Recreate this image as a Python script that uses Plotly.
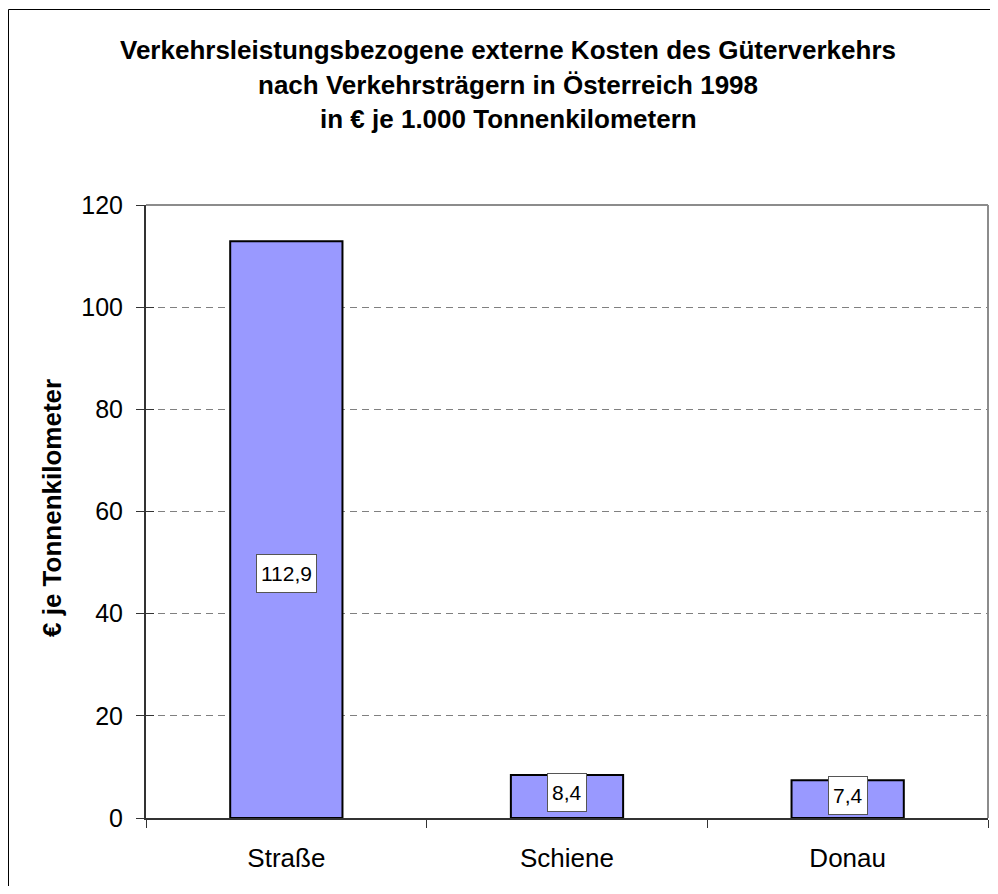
import plotly.graph_objects as go

categories = ["Straße", "Schiene", "Donau"]
values = [112.9, 8.4, 7.4]
value_labels = ["112,9", "8,4", "7,4"]
label_pos = [47.9, 5.0, 4.4]
y_ticks = [0, 20, 40, 60, 80, 100, 120]
title_lines = [
    "Verkehrsleistungsbezogene externe Kosten des Güterverkehrs",
    "nach Verkehrsträgern in Österreich 1998",
    "in € je 1.000 Tonnenkilometern",
]
y_title = "€ je Tonnenkilometer"

FONT = "Arial, Liberation Sans, sans-serif"
OFF = 8  # default page margin of the html body
W, H = 998 - 2 * OFF, 894 - 2 * OFF
L, T = 146 - OFF, 205 - OFF
R = W - (988 - OFF)
B = H - (818 - OFF)
PW, PH = W - L - R, H - T - B


def px_x(px):
    # screen x (reference pixels) -> paper coordinate
    return (px - OFF - L) / PW


def px_y(py):
    # screen y (reference pixels) -> paper coordinate
    return (H - B - (py - OFF)) / PH


fig = go.Figure()
fig.add_trace(go.Bar(
    x=categories, y=values, width=0.40,
    marker=dict(color="#9999FF", line=dict(color="#000000", width=2)),
    hoverinfo="skip",
))
# carrier for the overlay axis that draws the inner half of the y ticks
fig.add_trace(go.Scatter(
    x=categories, y=values, yaxis="y2", mode="none",
    hoverinfo="skip", showlegend=False,
))

annotations = []
for c, lab, pos in zip(categories, value_labels, label_pos):
    annotations.append(dict(
        x=c, y=pos, xref="x", yref="y", text=lab, showarrow=False,
        font=dict(family=FONT, size=21, color="#000000"),
        bgcolor="#FFFFFF", bordercolor="#555555", borderwidth=1, borderpad=4,
        height=29, valign="middle",
        xanchor="center", yanchor="middle",
    ))

for i, line in enumerate(title_lines):
    annotations.append(dict(
        x=px_x(508), y=px_y(50.5 + 34 * i), xref="paper", yref="paper",
        text="<b>" + line + "</b>", showarrow=False,
        font=dict(family=FONT, size=26, color="#000000"),
        xanchor="center", yanchor="middle",
    ))

annotations.append(dict(
    x=px_x(52), y=px_y(508), xref="paper", yref="paper",
    text="<b>" + y_title + "</b>", showarrow=False, textangle=-90,
    font=dict(family=FONT, size=26, color="#000000"),
    xanchor="center", yanchor="middle",
))

shapes = [
    # outer chart border: only its top and left edges are inside the picture
    dict(type="line", xref="paper", yref="paper",
         x0=px_x(8.5), x1=px_x(998), y0=px_y(9.5), y1=px_y(9.5),
         line=dict(color="#000000", width=1), layer="below"),
    dict(type="line", xref="paper", yref="paper",
         x0=px_x(8.5), x1=px_x(8.5), y0=px_y(9.5), y1=px_y(894),
         line=dict(color="#000000", width=1), layer="below"),
    # plot area top border
    dict(type="line", xref="paper", yref="paper", x0=0, x1=1, y0=1, y1=1,
         line=dict(color="#8C8C8C", width=2)),
    # plot area right border
    dict(type="line", xref="paper", yref="paper", x0=1, x1=1, y0=0, y1=1,
         line=dict(color="#8C8C8C", width=2)),
]

fig.update_layout(
    width=W, height=H,
    margin=dict(l=L, r=R, t=T, b=B, pad=0),
    paper_bgcolor="#FFFFFF", plot_bgcolor="#FFFFFF",
    showlegend=False,
    annotations=annotations,
    shapes=shapes,
    font=dict(family=FONT, color="#000000"),
    yaxis2=dict(
        overlaying="y", side="left", anchor="x", range=[0, 120],
        tickvals=y_ticks, ticks="inside", ticklen=8, tickwidth=1, tickcolor="#333333",
        showticklabels=False, showgrid=False, showline=False, zeroline=False,
    ),
)

fig.update_xaxes(
    type="category", range=[-0.5, 2.5],
    showline=True, linecolor="#333333", linewidth=2,
    ticks="outside", tickson="boundaries", ticklen=8, tickcolor="#333333", tickwidth=1,
    showgrid=False, zeroline=False,
    tickfont=dict(family=FONT, size=26, color="#000000"),
    ticklabelstandoff=16,
)
fig.update_yaxes(
    selector=dict(overlaying=None),
    range=[0, 120], tickvals=y_ticks, ticktext=[str(v) for v in y_ticks],
    showline=True, linecolor="#333333", linewidth=2,
    ticks="outside", ticklen=8, tickcolor="#333333", tickwidth=1,
    showgrid=True, gridcolor="#808080", gridwidth=1, griddash="7px,5px",
    zeroline=False,
    tickfont=dict(family=FONT, size=25, color="#000000"),
    ticklabelstandoff=8,
)

fig.write_html("out.html")
